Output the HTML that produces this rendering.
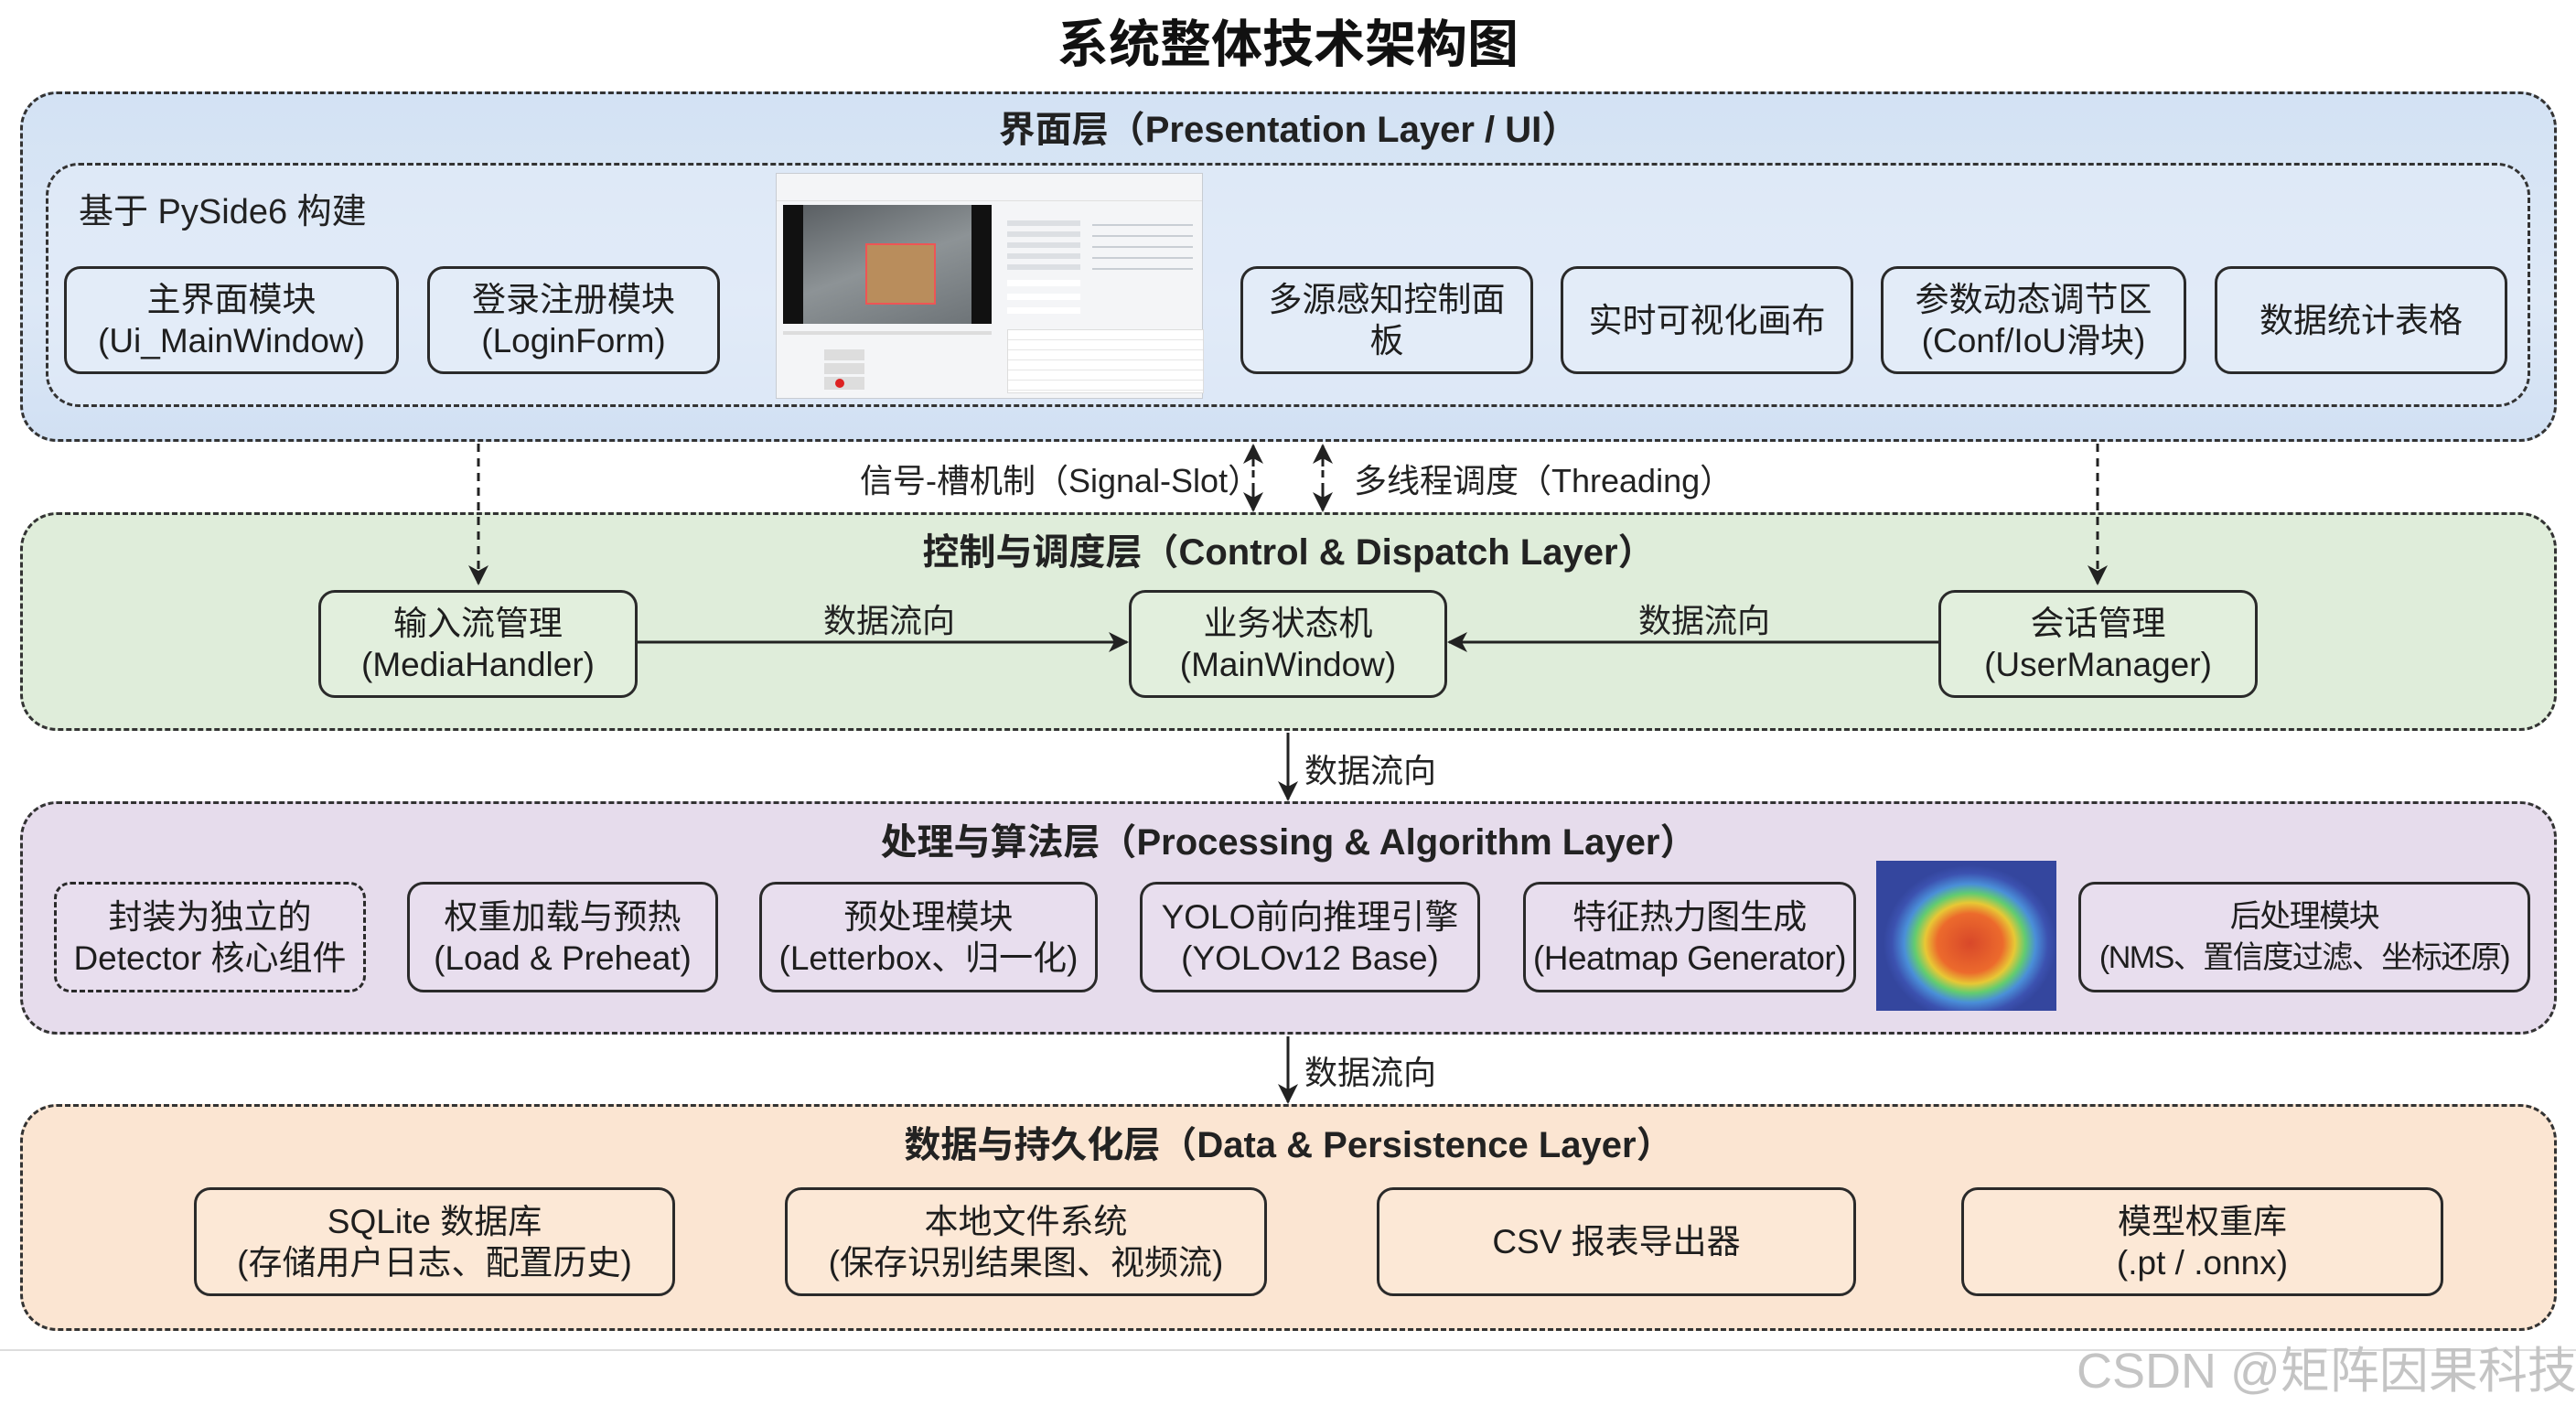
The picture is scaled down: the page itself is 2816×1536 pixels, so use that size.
<!DOCTYPE html>
<html><head><meta charset="utf-8"><style>
*{margin:0;padding:0;box-sizing:border-box}
body{width:2816px;height:1536px;background:#fff;position:relative;overflow:hidden;font-family:"Liberation Sans","Noto Sans CJK SC",sans-serif;color:#1e1e1e}
.a{position:absolute}
.layer{position:absolute;left:22px;width:2773px;border:3px dashed #333;border-radius:40px}
.lt{position:absolute;left:0;width:100%;text-align:center;font-weight:bold;font-size:40px;color:#222}
.box{position:absolute;border:3px solid #2a2a2a;border-radius:18px;display:flex;flex-direction:column;align-items:center;justify-content:center;text-align:center;font-size:37px;line-height:45px;color:#1e1e1e}
.lbl{position:absolute;font-size:36px;color:#222;white-space:nowrap}
</style></head><body>
<div class="a" style="left:0;top:4px;width:2816px;text-align:center;font-size:56px;font-weight:bold;color:#111">系统整体技术架构图</div>

<!-- Layer 1 -->
<div class="layer" style="top:100px;height:383px;background:linear-gradient(#d3e2f4,#dde8f6 60%,#d1e0f3)"><div class="lt" style="top:6px">界面层（Presentation Layer / UI）</div></div>
<div class="a" style="left:50px;top:178px;width:2716px;height:267px;border:3px dashed #333;border-radius:36px;background:rgba(230,238,250,0.5)"></div>
<div class="lbl" style="left:86px;top:200px;font-size:38px">基于 PySide6 构建</div>
<div class="box" style="left:70px;top:291px;width:366px;height:118px;background:#e3ecf8">主界面模块<span>(Ui_MainWindow)</span></div>
<div class="box" style="left:467px;top:291px;width:320px;height:118px;background:#e3ecf8">登录注册模块<span>(LoginForm)</span></div>
<div class="box" style="left:1356px;top:291px;width:320px;height:118px;background:#e3ecf8">多源感知控制面<span>板</span></div>
<div class="box" style="left:1706px;top:291px;width:320px;height:118px;background:#e3ecf8">实时可视化画布</div>
<div class="box" style="left:2056px;top:291px;width:334px;height:118px;background:#e3ecf8">参数动态调节区<span>(Conf/IoU滑块)</span></div>
<div class="box" style="left:2421px;top:291px;width:320px;height:118px;background:#e3ecf8">数据统计表格</div>

<!-- screenshot mock -->
<div class="a" style="left:848px;top:189px;width:467px;height:247px;background:#f4f5f7;border:1px solid #c8ccd2">
 <div class="a" style="left:0;top:0;width:100%;height:30px;border-bottom:1px solid #e0e0e0"></div>
 <div class="a" style="left:7px;top:34px;width:228px;height:130px;background:#111"></div>
 <div class="a" style="left:29px;top:34px;width:184px;height:130px;background:linear-gradient(160deg,#5a5f63,#8d9396 50%,#6e7478)"></div>
 <div class="a" style="left:97px;top:76px;width:77px;height:67px;background:#b98d5c;border:2px solid #e55"></div>
 <div class="a" style="left:7px;top:172px;width:228px;height:4px;background:#ddd"></div>
 <div class="a" style="left:52px;top:192px;width:44px;height:12px;background:#ddd"></div>
 <div class="a" style="left:52px;top:207px;width:44px;height:12px;background:#ddd"></div>
 <div class="a" style="left:52px;top:222px;width:44px;height:14px;background:#ddd"></div>
 <div class="a" style="left:64px;top:224px;width:10px;height:10px;border-radius:50%;background:#d22"></div>
 <div class="a" style="left:252px;top:45px;width:80px;height:60px;background:repeating-linear-gradient(#f4f5f7 0 6px,#dcdfe3 6px 12px)"></div>
 <div class="a" style="left:345px;top:45px;width:110px;height:60px;background:repeating-linear-gradient(#f4f5f7 0 10px,#c9ced4 10px 12px)"></div>
 <div class="a" style="left:252px;top:108px;width:80px;height:50px;background:repeating-linear-gradient(#f4f5f7 0 8px,#fff 8px 15px)"></div>
 <div class="a" style="left:252px;top:170px;width:215px;height:70px;background:#fff;border:1px solid #ddd;background-image:repeating-linear-gradient(#fff 0 10px,#e5e5e5 10px 11px)"></div>
</div>

<!-- Layer 2 -->
<div class="layer" style="top:560px;height:239px;background:#dfedda"><div class="lt" style="top:8px">控制与调度层（Control &amp; Dispatch Layer）</div></div>
<div class="box" style="left:348px;top:645px;width:349px;height:118px;background:#e2efdd">输入流管理<span>(MediaHandler)</span></div>
<div class="box" style="left:1234px;top:645px;width:348px;height:118px;background:#e2efdd">业务状态机<span>(MainWindow)</span></div>
<div class="box" style="left:2119px;top:645px;width:349px;height:118px;background:#e2efdd">会话管理<span>(UserManager)</span></div>
<div class="lbl" style="left:900px;top:650px">数据流向</div>
<div class="lbl" style="left:1791px;top:650px">数据流向</div>

<!-- Layer 3 -->
<div class="layer" style="top:876px;height:255px;background:#e6dcec"><div class="lt" style="top:9px">处理与算法层（Processing &amp; Algorithm Layer）</div></div>
<div class="box" style="left:59px;top:964px;width:341px;height:121px;border-style:dashed;background:#e8deee">封装为独立的<span>Detector 核心组件</span></div>
<div class="box" style="left:445px;top:964px;width:340px;height:121px;background:#e8deee">权重加载与预热<span>(Load &amp; Preheat)</span></div>
<div class="box" style="left:830px;top:964px;width:370px;height:121px;background:#e8deee">预处理模块<span>(Letterbox、归一化)</span></div>
<div class="box" style="left:1246px;top:964px;width:372px;height:121px;background:#e8deee">YOLO前向推理引擎<span>(YOLOv12 Base)</span></div>
<div class="box" style="left:1665px;top:964px;width:364px;height:121px;background:#e8deee;letter-spacing:-0.5px">特征热力图生成<span>(Heatmap Generator)</span></div>
<div class="a" style="left:2051px;top:941px;width:197px;height:164px;background:radial-gradient(ellipse 48% 52% at 52% 55%,#d8482a 0%,#ec6a2c 38%,#e8c835 52%,#62cc70 64%,#4a8fd8 76%,#3c52b0 90%,#34469e 100%)"></div>
<div class="box" style="left:2272px;top:964px;width:494px;height:121px;background:#e8deee;font-size:34px;letter-spacing:-1.5px;white-space:nowrap">后处理模块<span>(NMS、置信度过滤、坐标还原)</span></div>

<!-- Layer 4 -->
<div class="layer" style="top:1207px;height:248px;background:#fbe5d2"><div class="lt" style="top:9px">数据与持久化层（Data &amp; Persistence Layer）</div></div>
<div class="box" style="left:212px;top:1298px;width:526px;height:119px;background:#fce8d6">SQLite 数据库<span>(存储用户日志、配置历史)</span></div>
<div class="box" style="left:858px;top:1298px;width:527px;height:119px;background:#fce8d6">本地文件系统<span>(保存识别结果图、视频流)</span></div>
<div class="box" style="left:1505px;top:1298px;width:524px;height:119px;background:#fce8d6">CSV 报表导出器</div>
<div class="box" style="left:2144px;top:1298px;width:527px;height:119px;background:#fce8d6">模型权重库<span>(.pt / .onnx)</span></div>

<!-- labels between layers -->
<div class="lbl" style="left:940px;top:497px">信号-槽机制（Signal-Slot）</div>
<div class="lbl" style="left:1480px;top:497px">多线程调度（Threading）</div>
<div class="lbl" style="left:1426px;top:814px">数据流向</div>
<div class="lbl" style="left:1426px;top:1144px">数据流向</div>

<svg class="a" style="left:0;top:0" width="2816" height="1536">
<defs>
<marker id="b" markerWidth="22" markerHeight="22" refX="20" refY="11" orient="auto" markerUnits="userSpaceOnUse"><path d="M0,0 L22,11 L0,22 L6,11 z" fill="#222"/></marker></defs>
<g stroke="#222" stroke-width="3" fill="none">
<line x1="523" y1="485" x2="523" y2="638" stroke-dasharray="9,7" marker-end="url(#b)"/>
<line x1="2293" y1="485" x2="2293" y2="638" stroke-dasharray="9,7" marker-end="url(#b)"/>
<line x1="1370" y1="510" x2="1370" y2="487" marker-end="url(#b)"/>
<line x1="1370" y1="500" x2="1370" y2="540" stroke-dasharray="8,6"/>
<line x1="1370" y1="530" x2="1370" y2="558" marker-end="url(#b)"/>
<line x1="1446" y1="510" x2="1446" y2="487" marker-end="url(#b)"/>
<line x1="1446" y1="500" x2="1446" y2="540" stroke-dasharray="8,6"/>
<line x1="1446" y1="530" x2="1446" y2="558" marker-end="url(#b)"/>
<line x1="697" y1="702" x2="1232" y2="702" marker-end="url(#b)"/>
<line x1="2119" y1="702" x2="1584" y2="702" marker-end="url(#b)"/>
<line x1="1408" y1="801" x2="1408" y2="874" marker-end="url(#b)"/>
<line x1="1408" y1="1133" x2="1408" y2="1205" marker-end="url(#b)"/>
</g>
<line x1="0" y1="1476" x2="2816" y2="1476" stroke="#ddd" stroke-width="2"/>
</svg>
<div class="a" style="left:2270px;top:1454px;font-size:54px;color:#c4c4c4;white-space:nowrap">CSDN @矩阵因果科技</div>
</body></html>
